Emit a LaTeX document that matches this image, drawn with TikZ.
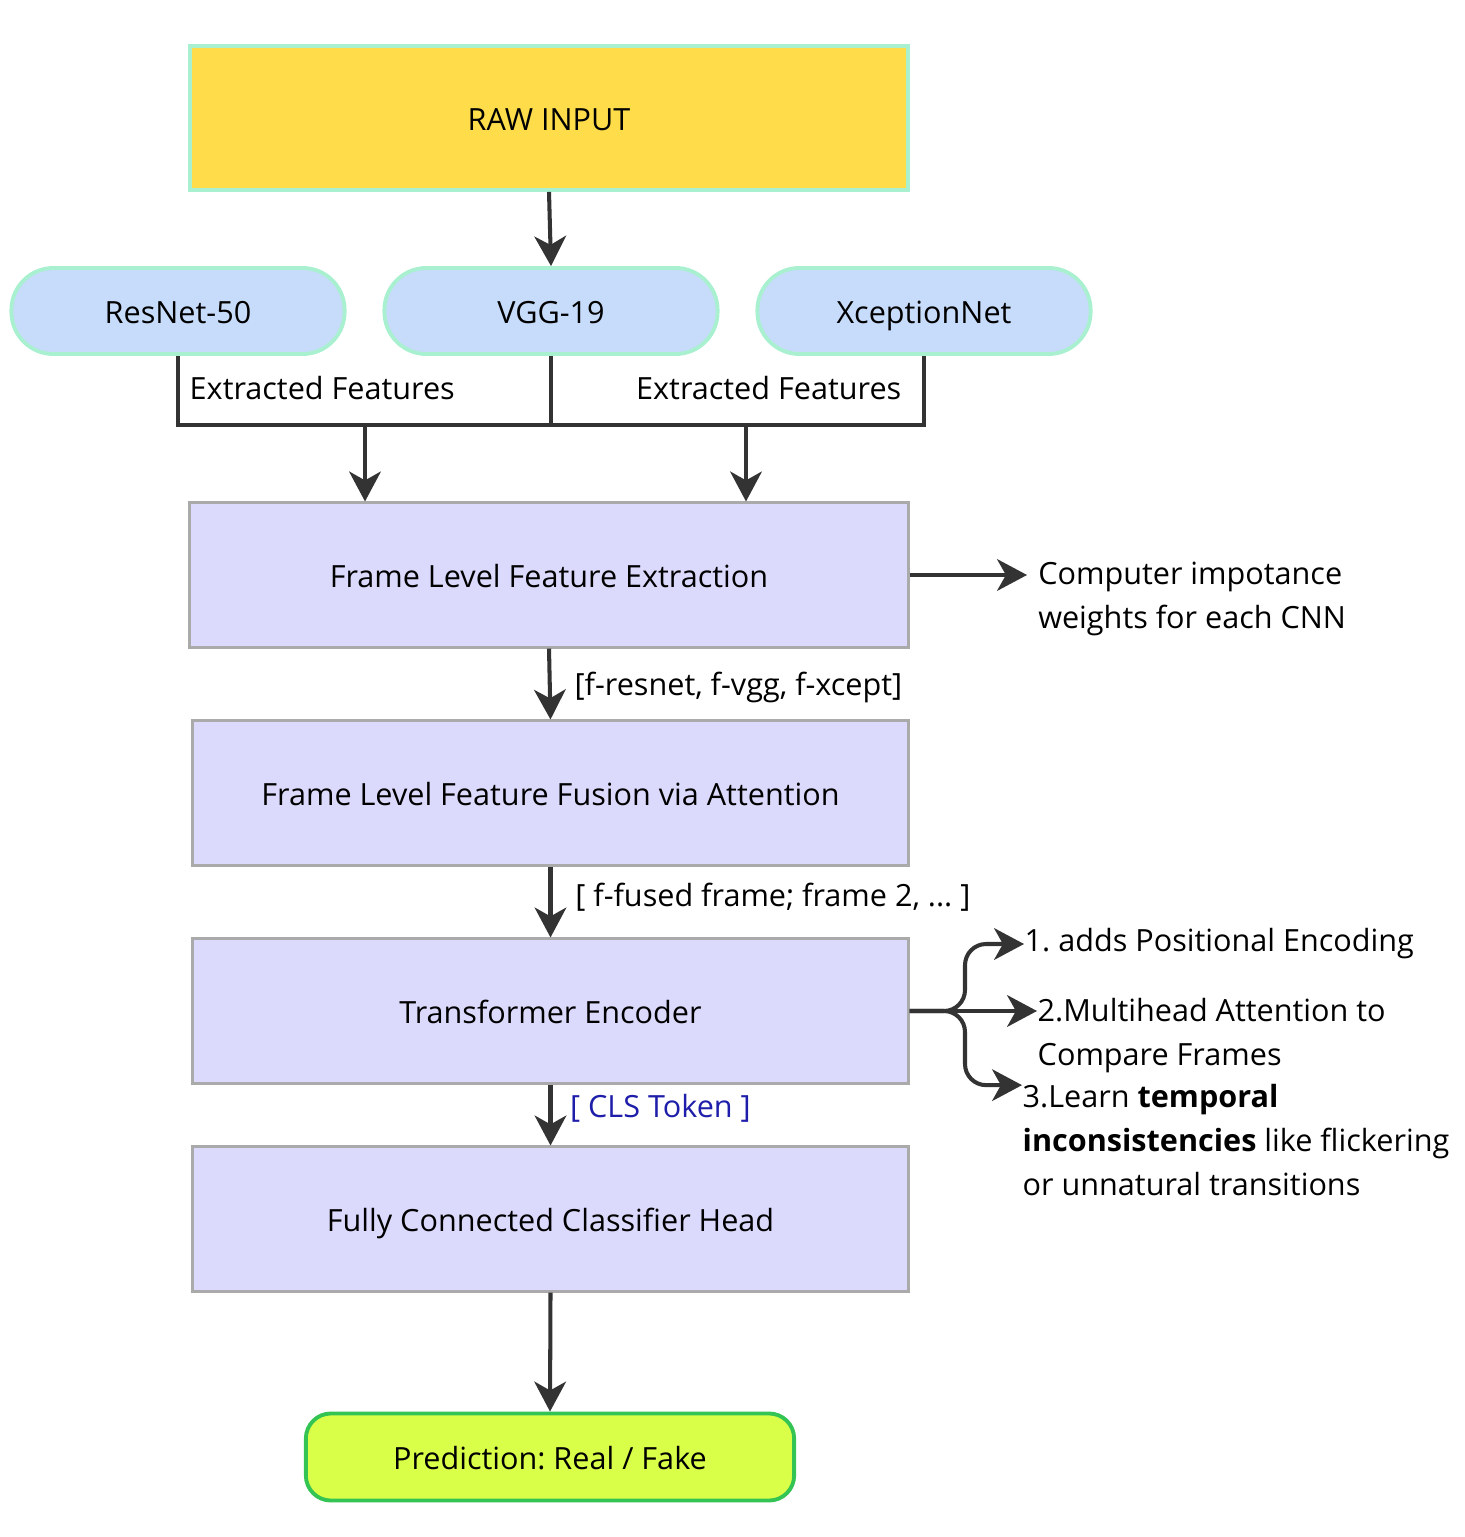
\documentclass[tikz,border=0pt]{standalone}
\usepackage{fontspec}
\setmainfont{Open Sans}
\usetikzlibrary{positioning,arrows.meta}
\definecolor{rawyellow}{RGB}{255,221,74}
\definecolor{mint}{RGB}{168,240,208}
\definecolor{pillblue}{RGB}{199,220,250}
\definecolor{lavender}{RGB}{220,218,252}
\definecolor{boxgray}{RGB}{170,170,170}
\definecolor{lime}{RGB}{218,255,72}
\definecolor{predgreen}{RGB}{52,196,84}
\definecolor{ink}{RGB}{51,51,51}
\definecolor{clsblue}{RGB}{30,30,170}
\frenchspacing

\begin{document}
\begin{tikzpicture}[
    x=0.01cm, y=-0.01cm,
    font=\fontsize{8.7}{12.5}\selectfont,
    box/.style={draw=boxgray, line width=0.85pt, fill=lavender, align=center, minimum width=7.15cm, minimum height=1.44cm, text height=0.85em, text depth=0.15em},
    pill/.style={draw=mint, line width=1.1pt, fill=pillblue, rounded corners=0.42cm, minimum width=3.33cm, minimum height=0.86cm, text height=0.85em, text depth=0.15em},
    lbl/.style={anchor=west, inner sep=0pt, align=left},
    lab/.style={midway, anchor=west, inner sep=0pt, xshift=6.5pt},
    line/.style={-{Stealth[length=8.5pt, width=9pt, inset=2.5pt]}, draw=ink, line width=1.15pt},
    wire/.style={draw=ink, line width=1.1pt}
]
\useasboundingbox (0,0) rectangle (1464,1537);

\node[box, draw=mint, line width=1.1pt, fill=rawyellow, minimum width=7.18cm] (raw) at (549,118) {RAW INPUT};
\node[pill] (resnet) at (178,311) {ResNet-50};
\node[pill] (vgg) at (551,311) {VGG-19};
\node[pill] (xcept) at (924,311) {XceptionNet};

\node[box, minimum width=7.18cm] (fle) at (549,575) {Frame Level Feature Extraction};
\node[box] (ffa) at (550.5,793) {Frame Level Feature Fusion via Attention};
\node[box] (te) at (550.5,1011) {Transformer Encoder};
\node[box] (fc) at (550.5,1219) {Fully Connected Classifier Head};
\node[draw=predgreen, line width=1.1pt, fill=lime, rounded corners=0.25cm, minimum width=4.88cm, minimum height=0.87cm, text height=0.85em, text depth=0.15em] (pred) at (550,1457) {Prediction: Real / Fake};

\node[lbl] (ef1) at (189,388) {Extracted Features};
\node[lbl, anchor=east] (ef2) at (902,388) {Extracted Features};
\node[lbl, inner xsep=3pt] (cw) at (1027,599) {Computer impotance\\weights for each CNN};
\node[lbl] (t1) at (1024,944) {1. adds Positional Encoding};
\node[lbl] (t2) at (1037,1036) {2.Multihead Attention to\\Compare Frames};
\node[lbl] (t3) at (1022,1140) {3.Learn \textbf{temporal}\\\textbf{inconsistencies} like flickering\\or unnatural transitions};

\coordinate (bus) at (551,425);
\coordinate (busl) at (365,425);
\coordinate (busr) at (746,425);
\coordinate (br) at (965,1011);

\draw[line] (raw.south) -- (vgg.north);
\draw[wire] (resnet.south) -- (resnet.south |- bus) -- (xcept.south |- bus) -- (xcept.south);
\draw[wire] (vgg.south) -- (bus);
\draw[line] (busl) -- (busl |- fle.north);
\draw[line] (busr) -- (busr |- fle.north);

\draw[line] (fle.east) -- (fle.east -| cw.west);
\draw[line] (fle.south) -- (ffa.north) node[lab, yshift=-1pt] {[f-resnet, f-vgg, f-xcept]};
\draw[line] (ffa.south) -- (te.north) node[lab, yshift=1.5pt] {[ f-fused frame; frame 2, ... ]};
\draw[line] (te.south) -- (fc.north) node[lab, xshift=-1.5pt, yshift=2pt, text=clsblue] {[ CLS Token ]};
\draw[line] (fc.south) -- (pred.north);

\draw[line, rounded corners=6pt] (te.east) -- (br) |- (t1.west);
\draw[line] (te.east) -- (te.east -| t2.west);
\draw[line, rounded corners=6pt] (te.east) -- (br) |- ([yshift=15.6pt]t3.west);
\end{tikzpicture}
\end{document}
